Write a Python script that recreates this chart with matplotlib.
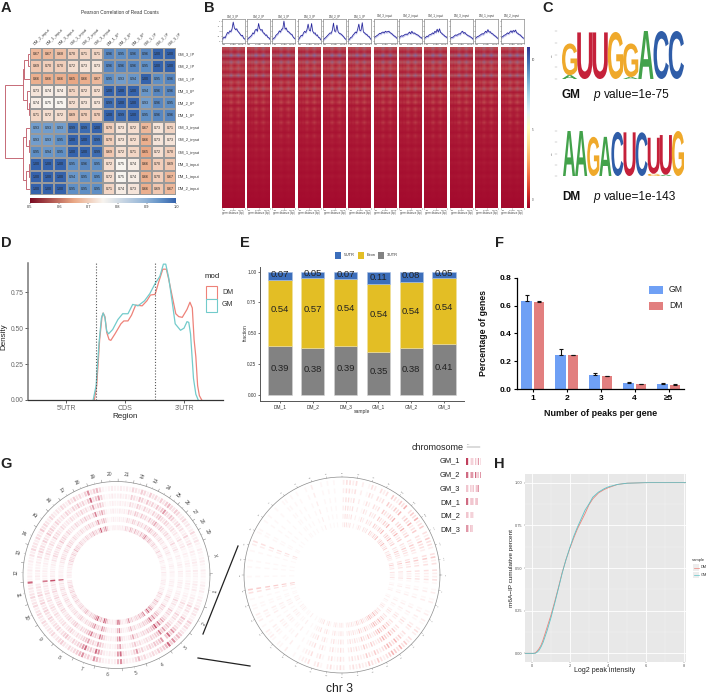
import numpy as np
import matplotlib
matplotlib.use("Agg")
import matplotlib.pyplot as plt
from matplotlib.colors import LinearSegmentedColormap
from matplotlib.font_manager import FontProperties
from matplotlib.patches import PathPatch, Rectangle
from matplotlib.textpath import TextPath
from matplotlib.transforms import Affine2D

plt.rcParams['font.family'] = ['Liberation Sans', 'DejaVu Sans']
W, H = 708, 695

# ---------- data ----------
hm_cols = ['DM_2_input','DM_1_input','DM_3_input','GM_1_input','GM_2_input','GM_3_input',
           'DM_1_IP','DM_2_IP','DM_3_IP','GM_1_IP','GM_2_IP','GM_3_IP']
hm_rows = ['GM_3_IP','GM_2_IP','GM_1_IP','DM_3_IP','DM_2_IP','DM_1_IP',
           'GM_3_input','GM_2_input','GM_1_input','DM_3_input','DM_1_input','DM_2_input']
hm_vals = [
 [.67,.67,.68,.70,.71,.71,.96,.95,.96,.96,1.00,1.00],
 [.69,.70,.70,.72,.73,.73,.96,.96,.96,.95,1.00,1.00],
 [.66,.66,.66,.65,.66,.67,.95,.93,.94,1.00,.95,.96],
 [.73,.74,.74,.71,.72,.72,1.00,1.00,1.00,.94,.96,.96],
 [.74,.75,.75,.72,.73,.73,.99,1.00,1.00,.93,.96,.95],
 [.71,.72,.72,.69,.70,.70,1.00,.99,1.00,.95,.96,.96],
 [.93,.93,.93,.99,.99,1.00,.70,.73,.72,.67,.73,.71],
 [.93,.93,.95,1.00,1.00,.99,.70,.73,.72,.66,.73,.73],
 [.95,.94,.95,1.00,1.00,.99,.69,.72,.71,.65,.72,.70],
 [1.00,1.00,1.00,.95,.96,.95,.72,.75,.74,.66,.70,.69],
 [1.00,1.00,1.00,.94,.95,.95,.72,.75,.74,.66,.70,.67],
 [1.00,1.00,1.00,.95,.95,.95,.71,.74,.73,.66,.69,.67]]
hm_tree = (1.0, (0.29, (0.24, (0.10, 0, 1), 2), (0.13, 3, (0.06, 4, 5))),
                (0.27, (0.16, 6, (0.06, 7, 8)), (0.16, (0.05, 9, 10), 11)))

profile_vals = [
 [.10,.14,.22,.18,.32,.44,.40,.52,.48,.62,.95,.66,.58,.62,.50,.44,.36,.28,.30,.16,.12],
 [.08,.15,.20,.25,.30,.42,.38,.55,.60,.50,.88,.62,.55,.58,.42,.40,.30,.32,.20,.18,.10],
 [.10,.16,.18,.30,.35,.40,.52,.46,.60,.62,1.0,.60,.66,.50,.48,.42,.36,.34,.22,.16,.12],
 [.08,.12,.22,.30,.28,.42,.50,.44,.58,.85,.55,.52,.88,.50,.40,.42,.30,.32,.20,.18,.08],
 [.06,.14,.18,.24,.30,.36,.42,.40,.55,.90,.50,.50,.80,.48,.40,.38,.34,.28,.22,.14,.10],
 [.08,.12,.20,.22,.32,.38,.46,.42,.60,.85,.52,.56,.92,.46,.42,.36,.34,.26,.24,.14,.08],
 [.18,.22,.26,.30,.34,.40,.38,.44,.46,.42,.50,.46,.48,.50,.44,.40,.36,.30,.26,.22,.16],
 [.16,.24,.28,.26,.30,.34,.36,.34,.40,.46,.38,.50,.40,.42,.38,.34,.32,.28,.22,.20,.14],
 [.16,.20,.26,.24,.32,.34,.36,.42,.38,.50,.44,.60,.46,.62,.44,.40,.34,.30,.24,.22,.16],
 [.14,.18,.20,.22,.28,.32,.30,.34,.38,.36,.46,.50,.40,.44,.36,.32,.28,.26,.22,.18,.12],
 [.14,.20,.24,.26,.30,.34,.38,.36,.42,.50,.44,.58,.46,.48,.40,.38,.32,.28,.24,.18,.14],
 [.16,.22,.24,.30,.32,.36,.42,.38,.46,.52,.44,.54,.48,.56,.42,.40,.34,.32,.26,.20,.16]]
heat_rows = [.55,.30,.70,.25,.60,.35,.50,.28,.62,.22,.45,.30,.52,.20,.42,.26,.38,.18,.35,.24,
             .30,.16,.32,.20,.26,.14,.28,.18,.22,.12,.24,.15,.18,.10,.20,.12,.14,.08,.16,.09,
             .11,.06,.09,.05,.06,.03,.03,.02]
heat_cols = [.72,.78,.7,.82,.74,.92,1,.84,.7,.76,.9,1,.86,.74,.78,.7]

logo_gm = [[('A',.08),('G',.66)],[('U',.97)],[('U',.97)],[('G',.98)],[('A',.04),('G',.70)],
           [('A',1)],[('C',1)],[('C',1)]]
logo_dm = [[('A',1)],[('A',1)],[('G',.87)],[('A',.87)],[('C',.98)],[('U',.97)],[('C',.97)],
           [('G',.05),('U',.80)],[('A',.03),('U',.88)],[('G',1)]]

d_x_dm = [-.02,.02,.07,.11,.13,.16,.19,.23,.26,.33,.43,.48,.55,.61,.68,.79,.87,.93,1.01,1.07,
          1.14,1.20,1.24,1.30,1.36,1.41,1.47,1.55,1.60,1.64,1.67,1.70,1.73,1.76,1.80]
d_y_dm = [0,.1,.42,.58,.605,.58,.47,.42,.415,.46,.53,.55,.55,.59,.66,.655,.69,.73,.735,.82,
          .91,.91,.84,.72,.60,.58,.575,.63,.68,.64,.42,.3,.1,.03,0]
d_x_gm = [-.04,.01,.06,.10,.13,.16,.19,.22,.29,.38,.46,.55,.63,.72,.83,.92,1.01,1.09,1.15,1.19,
          1.24,1.30,1.35,1.44,1.50,1.55,1.58,1.61,1.66,1.70,1.74]
d_y_gm = [0,.1,.4,.57,.605,.57,.48,.46,.49,.56,.60,.60,.665,.655,.69,.74,.81,.86,.945,.945,
          .85,.68,.53,.485,.50,.545,.54,.46,.15,.04,0]
e_samples = ['DM_1','DM_2','DM_3','GM_1','GM_2','GM_3']
e_3utr = [.397,.381,.397,.351,.381,.413]
e_exon = [.538,.570,.541,.546,.538,.538]
e_5utr = [.065,.049,.062,.103,.081,.049]
e_lab3 = ['0.39','0.38','0.39','0.35','0.38','0.41']
e_labx = ['0.54','0.57','0.54','0.54','0.54','0.54']
e_lab5 = ['0.07','0.05','0.07','0.11','0.08','0.05']
f_cats = ['1','2','3','4','≥5']
f_gm = [.63,.245,.10,.045,.038]
f_dm = [.623,.243,.09,.035,.032]
f_gm_err = [.045,.045,.017,.007,.006]
f_dm_err = [.012,.002,.005,.002,.002]

chrom_names = [str(i) for i in range(1,30)] + ['X']
chrom_span = [21,18.5,16,17,15,17,14,15,15,14,14,12,11.5,12,12,10,10,9,9,10,9.5,8,8,8,6.5,7,6.5,6.5,7,21]
ring_gain = [.9,1,.85,.95,.9,1.05]
genome_bins = [2,3,1,2,3,2,1,2,3,1, 2,4,3,2,5,3,2,4,3,5, 4,3,5,6,4,5,7,6,4,6, 3,5,4,6,3,5,6,3,4,5,
               2,3,2,3,2,2,3,2,1,2, 5,7,6,4,8,6,3,5,4,6, 4,5,3,4,5,3,4,3,4,5, 3,4,5,4,6,3,4,5,3,4,
               4,5,3,4,2,3,2,2,3,2, 3,2,9,3,4,3,4,5,3,4, 5,3,4,5,4,3,5,4,3,4, 4,5,3,4,5,6,4,3,5,4,
               5,6,7,8,5,6,4,8,7,5, 3,2,3,2,3,7,8,4,3,2, 3,5,7,4,5,3,4,5,4,6, 5,6,7,9,6,8,5,7,6,4,
               3,5,4,6,3,2,4,3,5,3, 2,3,2,1,3,2,3,2,1,2]
chr3_bins = [2,3,0,3,2,4,3,0,2,3, 3,4,2,3,0,4,3,2,5,3, 4,3,0,5,3,4,2,3,4,0, 3,2,3,0,2,3,1,0,2,0,
             3,2,3,3,2,0,0,1,0,1, 0,1,0,0,2,0,1,0,0,1, 0,1,0,1,1,0,0,1,0,0, 1,0,1,0,0,1,1,0,0,3,
             2,0,1,0,0,1,0,1,0,0, 1,0,0,0,4,3,0,1,0,1, 1,0,2,1,2,0,1,0,2,1, 2,1,0,1,1,0,2,0,0,1,
             0,1,2,2,3,0,2,3,1,0, 2,3,1,2,3,2,0,2,3,2, 3,2,2,4,3,2,4,3,2,3, 4,5,4,3,5,3,4,2,3,0,
             2,3,2,0,1,2,0,2,1,0, 0,2,1,0,2,1,0,1,3,2]
g_samples = ['GM_1','GM_2','GM_3','DM_1','DM_2','DM_3']
g_marks = [[9,4,3,5,3,6,3,7,4],[8,5,6,7,4,8,5,6,7],[6,3,5,4,6,3,6,7],
           [8,4,5,6,4,5,6],[6,4,4,5,3],[7,5,6,5]]
h_x = [-.35,.1,.2,.3,.4,.5,.6,.8,1,1.2,1.4,1.6,1.8,2,2.2,2.4,2.6,2.8,3,3.2,3.5,3.8,4,4.5,5,6,8.07]
h_dm = [0,0,.003,.015,.03,.05,.08,.15,.22,.30,.385,.475,.55,.615,.675,.73,.775,.82,.87,.905,.94,.96,.97,.99,.997,1,1]
h_gm = [0,0,.001,.008,.02,.04,.065,.13,.205,.29,.38,.47,.55,.62,.685,.74,.79,.84,.875,.915,.945,.965,.975,.99,.997,1,1]

# ---------- helpers ----------
fig = plt.figure(figsize=(W/100, H/100), dpi=100, facecolor='white')
def box(x0, y0, x1, y1):
    return [x0/W, 1-y1/H, (x1-x0)/W, (y1-y0)/H]
ov = fig.add_axes([0,0,1,1], zorder=20)
ov.set_xlim(0,W); ov.set_ylim(H,0); ov.axis('off')
def T(x, y, s, size=5, **kw):
    kw.setdefault('ha','center'); kw.setdefault('va','center')
    return ov.text(x, y, s, fontsize=size, **kw)
for lab, x, y in [('A',6,8),('B',209,8),('C',548,8),('D',6,243),('E',245,243),('F',499,243),('G',6,464),('H',499,464)]:
    T(x, y, lab, size=10.5, fontweight='bold', color='#222222')

# ---------- A ----------
hm_cmap = LinearSegmentedColormap.from_list('hm', [(0,'#7A0A22'),(.3,'#EAA885'),(.5,'#F8F4EF'),(.8,'#8FB2D6'),(.9,'#6090C6'),(1,'#3563AC')])
a = fig.add_axes(box(30,48,176,195))
a.pcolormesh(np.array(hm_vals), cmap=hm_cmap, vmin=.5, vmax=1, edgecolors='#9a9a9a', linewidth=.3)
a.set_ylim(12,0); a.set_xlim(0,12)
for i,row in enumerate(hm_vals):
    for j,v in enumerate(row):
        a.text(j+.5, i+.5, f'{v:.2f}', ha='center', va='center', fontsize=2.6, color='#222222')
a.set_xticks(np.arange(12)+.5); a.set_yticks(np.arange(12)+.5)
a.xaxis.tick_top(); a.yaxis.tick_right()
a.set_xticklabels(hm_cols, rotation=45, ha='left', va='bottom', rotation_mode='anchor', fontsize=2.9, color='#333333')
a.set_yticklabels(hm_rows, fontsize=2.9, color='#333333')
a.tick_params(length=0, pad=1.5)
for s in a.spines.values(): s.set_visible(False)
T(120,13,'Pearson Correlation of Read Counts', size=3.4, color='#333333')
dn = fig.add_axes(box(5,48,30,195)); dn.set_xlim(1,0); dn.set_ylim(12,0); dn.axis('off')
def draw_tree(node):
    if not isinstance(node, tuple):
        return node+.5, 0.0
    h, l, r = node
    yl, hl = draw_tree(l); yr, hr = draw_tree(r)
    dn.plot([hl,h,h,hr],[yl,yl,yr,yr], color='#C66B77', lw=.7, solid_joinstyle='miter')
    return (yl+yr)/2, h
draw_tree(hm_tree)
cb = fig.add_axes(box(30,198,176,203))
cb.imshow(np.linspace(.5,1,256)[None,:], cmap=hm_cmap, aspect='auto', extent=[.5,1,0,1])
cb.set_yticks([]); cb.set_xticks([.5,.6,.7,.8,.9,1]); cb.set_xticklabels(['0.5','0.6','0.7','0.8','0.9','1.0'], fontsize=2.9, color='#333333')
cb.tick_params(length=1, width=.3, pad=.8)
for s in cb.spines.values(): s.set_visible(False)

# ---------- B ----------
heat_cmap = LinearSegmentedColormap.from_list('heat', [(0,'#A3092D'),(.3,'#AE1E38'),(.5,'#BE474D'),(.72,'#A8606F'),(1,'#7A70AE')])
heat_img = np.outer(heat_rows, heat_cols)
def centre_ticks(ax, pos):
    ax.set_xticks(pos); labs = ax.set_xticklabels(['-3.0','center','3.0Kb'], fontsize=1.7, color='#444444')
    labs[0].set_ha('left'); labs[2].set_ha('right')
for i,(title,vals) in enumerate(zip(hm_rows, profile_vals)):
    x0 = 221.7 + i*25.35; x1 = x0 + 23
    p = fig.add_axes(box(x0,19,x1,42.5))
    xs = np.arange(len(vals))
    p.fill_between(xs, np.array(vals)-.06, np.array(vals)+.06, color='#C9C9EE', lw=0)
    p.plot(xs, vals, color='#25259A', lw=.55)
    p.set_xlim(0,20); p.set_ylim(-.05,1.1)
    centre_ticks(p, [0,10,20])
    p.set_yticks([0,.25,.5,.75,1]); p.set_yticklabels(['0','.25','.5','.75','1'] if i==0 else [], fontsize=1.6, color='#444444')
    p.tick_params(length=.7, width=.25, pad=.4)
    for s in p.spines.values(): s.set_linewidth(.5); s.set_color('#8a8a8a')
    T((x0+x1)/2, 16.5, title, size=2.1, color='#333333')
    h = fig.add_axes(box(x0,47,x1,208))
    h.imshow(heat_img, cmap=heat_cmap, vmin=0, vmax=.75, aspect='auto', interpolation='bilinear')
    centre_ticks(h, [-.5,7.5,15.5])
    h.set_yticks([]); h.tick_params(length=.7, width=.25, pad=.4)
    h.set_xlabel('gene distance (bp)', fontsize=1.9, labelpad=.4, color='#444444')
    for s in h.spines.values(): s.set_visible(False)
bc = fig.add_axes(box(527,47,529.5,208))
bc.imshow(np.linspace(1,0,256)[:,None], cmap='RdYlBu', aspect='auto', vmin=0, vmax=1)
bc.axis('off')
T(533,60,'10', size=2, color='#444444'); T(533,130,'5', size=2, color='#444444'); T(533,200,'0', size=2, color='#444444')

# ---------- C ----------
letter_col = {'G':'#EFA92B','U':'#C5213A','A':'#43A24B','C':'#2F5DA8'}
logo_font = FontProperties(family='Liberation Sans', weight='bold')
def logo(ax, stacks):
    for i,st in enumerate(stacks):
        base = 0
        for ch,hh in st:
            tp = TextPath((0,0), ch, size=1, prop=logo_font)
            bb = tp.get_extents()
            tr = Affine2D().translate(-bb.x0,-bb.y0).scale(1.0/bb.width, hh/bb.height).translate(i, base)
            ax.add_patch(PathPatch(tr.transform_path(tp), fc=letter_col[ch], ec='none'))
            base += hh
    ax.set_xlim(0,len(stacks)); ax.set_ylim(0,1)
    ax.axis('off')
for stacks,(x0,y0,x1,y1) in [(logo_gm,(562,31,684,79)),(logo_dm,(563,131,684,176))]:
    lg = fig.add_axes(box(x0,y0,x1,y1)); logo(lg, stacks)
    for k in range(5):
        yy = y1 - k*(y1-y0)/4
        ov.plot([555,557],[yy,yy], color='#999999', lw=.3)
    T(552,(y0+y1)/2,'bits', size=1.7, rotation=90, color='#777777')
for ylab,name,pv in [(95,'GM','value=1e-75'),(197,'DM','value=1e-143')]:
    T(562,ylab,name,size=8.5,fontweight='bold',ha='left',color='#111111')
    T(593,ylab,'p',size=8.6,style='italic',ha='left',color='#111111')
    T(604,ylab,pv,size=8.6,ha='left',color='#111111')

# ---------- D ----------
d = fig.add_axes(box(28,263,223,400))
d.plot(d_x_dm, d_y_dm, color='#EE8279', lw=.9)
d.plot(d_x_gm, d_y_gm, color='#72CBCB', lw=.9)
d.set_xlim(-1.144,2.16); d.set_ylim(0,.953)
for v in (0,1):
    d.axvline(v, color='#555555', lw=.8, ls=(0,(1,1.6)))
d.set_xticks([-.5,.5,1.5]); d.set_xticklabels(["5'UTR",'CDS',"3'UTR"], fontsize=5, color='#666666')
d.set_yticks([0,.25,.5,.75]); d.set_yticklabels(['0.00','0.25','0.50','0.75'], fontsize=4.8, color='#666666')
d.tick_params(length=2, width=.6, color='#444444', pad=1.5)
d.spines[['top','right']].set_visible(False)
d.spines['left'].set_linewidth(1.1); d.spines['left'].set_color('#777777')
d.spines['bottom'].set_linewidth(.9); d.spines['bottom'].set_color('#333333')
T(125.5,416,'Region',size=5.8,color='#222222')
T(4,337,'Density',size=5.8,rotation=90,color='#222222')
T(205,277,'mod',size=5.6,ha='left',color='#222222')
ov.add_patch(Rectangle((206,286),11,12.5,fc='white',ec='#EE8279',lw=.8))
ov.add_patch(Rectangle((206,299),11,12.5,fc='white',ec='#72CBCB',lw=.8))
T(222,292,'DM',size=5,ha='left',color='#333333'); T(222,305,'GM',size=5,ha='left',color='#333333')

# ---------- E ----------
e = fig.add_axes(box(260,267,464,401))
xe = np.arange(1,7); e3 = np.array(e_3utr); ex = np.array(e_exon); e5 = np.array(e_5utr)
e.bar(xe, e3, .71, color='#828282', edgecolor='#D5D5D5', lw=.4)
e.bar(xe, ex, .71, bottom=e3, color='#E3BE25', edgecolor='#EFE0A0', lw=.4)
e.bar(xe, e5, .71, bottom=e3+ex, color='#3C6EBB', edgecolor='#A8C0E4', lw=.4)
for i in range(6):
    e.text(xe[i], e3[i]/2+.012, e_lab3[i], ha='center', va='center', fontsize=6.8, color='#222222')
    e.text(xe[i], e3[i]+ex[i]/2+.03, e_labx[i], ha='center', va='center', fontsize=6.8, color='#222222')
    e.text(xe[i], e3[i]+ex[i]+e5[i]/2+.005, e_lab5[i], ha='center', va='center', fontsize=6.8, color='#222222')
e.set_xlim(.392,6.61); e.set_ylim(-.049,1.037)
e.set_xticks(xe); e.set_xticklabels(e_samples, fontsize=3.5, color='#333333')
e.set_yticks([0,.25,.5,.75,1]); e.set_yticklabels(['0.00','0.25','0.50','0.75','1.00'], fontsize=3.4, color='#333333')
e.tick_params(length=1.5, width=.4, pad=1)
e.spines[['top','right']].set_visible(False)
e.spines[['left','bottom']].set_linewidth(.7); e.spines[['left','bottom']].set_color('#555555')
T(362,411,'sample',size=3.6,color='#333333'); T(245,333,'fraction',size=3.6,rotation=90,color='#333333')
for xp,col,lab in [(335,'#3C6EBB',"5'UTR"),(358,'#E3BE25','Exon'),(378,'#828282',"3'UTR")]:
    ov.add_patch(Rectangle((xp,252),6,6.5,fc=col,ec='none'))
    T(xp+9,255.2,lab,size=2.9,ha='left',color='#333333')

# ---------- F ----------
f = fig.add_axes(box(517.3,273,684,389))
xf = np.arange(1,6)
f.bar(xf-.18, f_gm, .30, color='#6FA0F5')
f.bar(xf+.18, f_dm, .30, color='#E27F7F')
f.errorbar(xf-.18, f_gm, yerr=[np.zeros(5), f_gm_err], fmt='none', ecolor='#111111', elinewidth=.8, capsize=1.7, capthick=.8)
f.errorbar(xf+.18, f_dm, yerr=[np.zeros(5), f_dm_err], fmt='none', ecolor='#111111', elinewidth=.8, capsize=1.7, capthick=.8)
f.set_xlim(.547,5.45); f.set_ylim(0,.8345)
f.set_xticks(xf); f.set_xticklabels(f_cats, fontsize=6, fontweight='bold')
f.set_yticks([0,.2,.4,.6,.8]); f.set_yticklabels(['0.0','0.2','0.4','0.6','0.8'], fontsize=6, fontweight='bold')
f.tick_params(length=2.5, width=.8, pad=2)
f.spines[['top','right']].set_visible(False); f.spines['left'].set_bounds(0,.8)
f.spines[['left','bottom']].set_linewidth(.9)
T(483,333,'Percentage of genes',size=6.3,fontweight='bold',rotation=90,color='#111111')
T(601,414,'Number of peaks per gene',size=6.5,fontweight='bold',color='#111111')
ov.add_patch(Rectangle((649,286),14,8,fc='#6FA0F5',ec='none')); T(669,290,'GM',size=6.2,ha='left',color='#222222')
ov.add_patch(Rectangle((649,301.5),14,8,fc='#E27F7F',ec='none')); T(669,305.5,'DM',size=6.2,ha='left',color='#222222')

# ---------- G ----------
gen_cmap = LinearSegmentedColormap.from_list('g',['#FFFFFF','#FBEBEE','#F1C6CF','#BF3F5C'])
chr_cmap = LinearSegmentedColormap.from_list('c',['#FFFFFF','#FEF2F2','#FBDDDD','#F5B4B4'])
def polar(cx, cy, R):
    ax = fig.add_axes(box(cx-R,cy-R,cx+R,cy+R), projection='polar')
    ax.set_ylim(0,R); ax.axis('off')
    return ax
g1 = polar(116.5,575,94)
for r,gain in zip([86.7,79,71.7,64,55.7,47.3], ring_gain):
    for k,v in enumerate(genome_bins):
        if v:
            g1.bar(np.radians(2*k+1), 5, np.radians(1.4), bottom=r-2.5, color=gen_cmap(min(1,v/9*gain)), lw=0)
circ = np.radians(np.arange(0,361,1))
g1.plot(circ, np.full_like(circ,93.5,dtype=float), color='#8c8c8c', lw=.5, clip_on=False)
start = 1.0
for name,span in zip(chrom_names, chrom_span):
    g1.plot([np.radians(start)]*2,[93.5,96], color='#8c8c8c', lw=.4, clip_on=False)
    mid = start-span/2
    g1.plot([np.radians(mid)]*2,[93.5,95], color='#b0b0b0', lw=.3, clip_on=False)
    rot = (mid-90) % 360
    if 90 < rot < 270: rot -= 180
    g1.text(np.radians(mid), 100.5, name, ha='center', va='center', rotation=rot, rotation_mode='anchor', fontsize=3.6, color='#444444')
    start -= span
g2 = polar(342,575,98.5)
for r in [92.7,84.3,75.3,67,58.7,50.3]:
    for k,v in enumerate(chr3_bins):
        if v:
            g2.bar(np.radians(2*k+1), 4.8, np.radians(1.0), bottom=r-2.4, color=chr_cmap(v/5), lw=0)
g2.plot(circ, np.full_like(circ,98,dtype=float), color='#8c8c8c', lw=.5, clip_on=False)
for n,ang in enumerate(np.arange(0,360,9.0)):
    g2.plot([np.radians(-ang)]*2,[98,99.5], color='#8c8c8c', lw=.3, clip_on=False)
    rot = (-ang-90) % 360
    if 90 < rot < 270: rot -= 180
    g2.text(np.radians(-ang), 102, str(n*3), ha='center', va='center', rotation=rot, rotation_mode='anchor', fontsize=1.7, color='#777777')
ov.plot([238,203],[546,634], color='#222222', lw=.9)
ov.plot([198,250],[658,666], color='#222222', lw=.9)
T(340,689,'chr 3',size=8.7,color='#222222')
T(438,448,'chromosome',size=6.5,color='#222222')
ov.plot([467,480],[447,447], color='#555555', lw=.3)
T(469,444.5,'chr',size=1.7,color='#666666')
mk = fig.add_axes(box(466,455,486,535)); mk.set_xlim(0,12.5); mk.set_ylim(5.5,-.5); mk.axis('off')
for row,(name,marks) in enumerate(zip(g_samples,g_marks)):
    T(460,461+row*13.8,name,size=5.4,ha='right',color='#222222')
    for k,v in enumerate(marks):
        mk.bar(k*1.05+.6, .5, .75, bottom=row-.25, color=gen_cmap(v/9), lw=0)

# ---------- H ----------
hp = fig.add_axes(box(525,474,685.7,661.7), facecolor='#E8E8E8')
hp.set_xlim(-.35,8.07); hp.set_ylim(-.049,1.051)
hp.set_xticks([0,2,4,6,8]); hp.set_xticks([1,3,5,7], minor=True)
hp.set_yticks([0,.25,.5,.75,1]); hp.set_yticks([.125,.375,.625,.875], minor=True)
hp.grid(True,which='major',color='white',lw=.6); hp.grid(True,which='minor',color='#F4F4F4',lw=.3)
hp.set_axisbelow(True)
hp.plot(h_x,h_dm,color='#EE8279',lw=.6); hp.plot(h_x,h_gm,color='#5CC4C8',lw=.6)
hp.set_xticklabels(['0','2','4','6','8'],fontsize=2.8,color='#555555')
hp.set_yticklabels(['0.00','0.25','0.50','0.75','1.00'],fontsize=2.8,color='#555555')
hp.tick_params(which='major',length=1,width=.3,pad=.8,color='#555555'); hp.tick_params(which='minor',length=0)
for s in hp.spines.values(): s.set_visible(False)
T(605,671,'Log2 peak intensity',size=5,color='#222222')
T(512,568,'m6A\u2212IP cumulative percent',size=4.6,rotation=90,color='#222222')
T(692,560,'sample',size=3,ha='left',color='#333333')
for y,col,lab in [(567.5,'#EE8279','DM'),(575,'#5CC4C8','GM')]:
    ov.add_patch(Rectangle((693,y-3.2),6,6.4,fc='#EDEDED',ec='none'))
    ov.plot([693.5,698.5],[y,y],color=col,lw=.5)
    T(701,y,lab,size=2.8,ha='left',color='#333333')

fig.savefig('out.png', dpi=100)
